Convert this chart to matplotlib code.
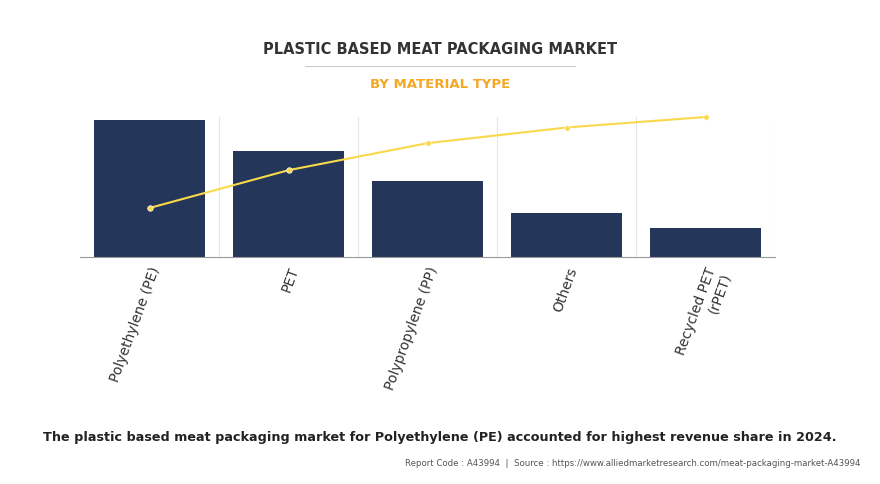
import matplotlib
matplotlib.use("Agg")
import matplotlib.pyplot as plt

categories = ["Polyethylene (PE)", "PET", "Polypropylene (PP)", "Others", "Recycled PET\n(rPET)"]
share = [35.0, 27.0, 19.3, 11.2, 7.5]
cumulative = [35.0, 62.0, 81.3, 92.5, 100.0]

fig = plt.figure(figsize=(8.8, 4.84), dpi=100)
ax = fig.add_axes([80/880, 1-257/484, 695/880, 140/484])
x = range(len(categories))
ax.bar(x, share, width=0.8, color="#243659", zorder=2)
ax.set_xlim(-0.5, len(categories)-0.5)
ax.set_ylim(0, share[0]*140/137)
for b in [0.5, 1.5, 2.5, 3.5, 4.5]:
    ax.axvline(b, color="#e6e6e6", lw=0.8, zorder=0)
ax.set_yticks([])
ax.set_xticks(list(x))
ax.set_xticklabels(categories, rotation=70, ha="right", rotation_mode="anchor", fontsize=10, color="#333333")
ax.tick_params(axis="x", length=0, pad=6)
for s in ["top", "right", "left"]:
    ax.spines[s].set_visible(False)
ax.spines["bottom"].set_color("#999999")

ax2 = ax.twinx()
ax2.plot(list(x), cumulative, color="#f9d84a", lw=1.5, marker="o", ms=4,
         markerfacecolor="#f9d84a", markeredgecolor="white", markeredgewidth=0.5, clip_on=False)
ax2.set_ylim(0, 100)
ax2.set_yticks([])
for s in ["top", "right", "left", "bottom"]:
    ax2.spines[s].set_visible(False)

fig.text(0.5, 1-50/484, "PLASTIC BASED MEAT PACKAGING MARKET", ha="center", va="center",
         fontsize=10.5, fontweight="bold", color="#333333")
fig.add_artist(plt.Line2D([305/880, 575/880], [1-66/484]*2, color="#cccccc", lw=0.8))
fig.text(0.5, 1-84/484, "BY MATERIAL TYPE", ha="center", va="center",
         fontsize=9.5, fontweight="bold", color="#f5a623")
fig.text(0.5, 1-438/484, "The plastic based meat packaging market for Polyethylene (PE) accounted for highest revenue share in 2024.",
         ha="center", va="center", fontsize=9.2, fontweight="bold", color="#222222")
fig.text(860/880, 1-463/484, "Report Code : A43994  |  Source : https://www.alliedmarketresearch.com/meat-packaging-market-A43994",
         ha="right", va="center", fontsize=6.2, color="#555555")
fig.savefig("out.png", dpi=100)
